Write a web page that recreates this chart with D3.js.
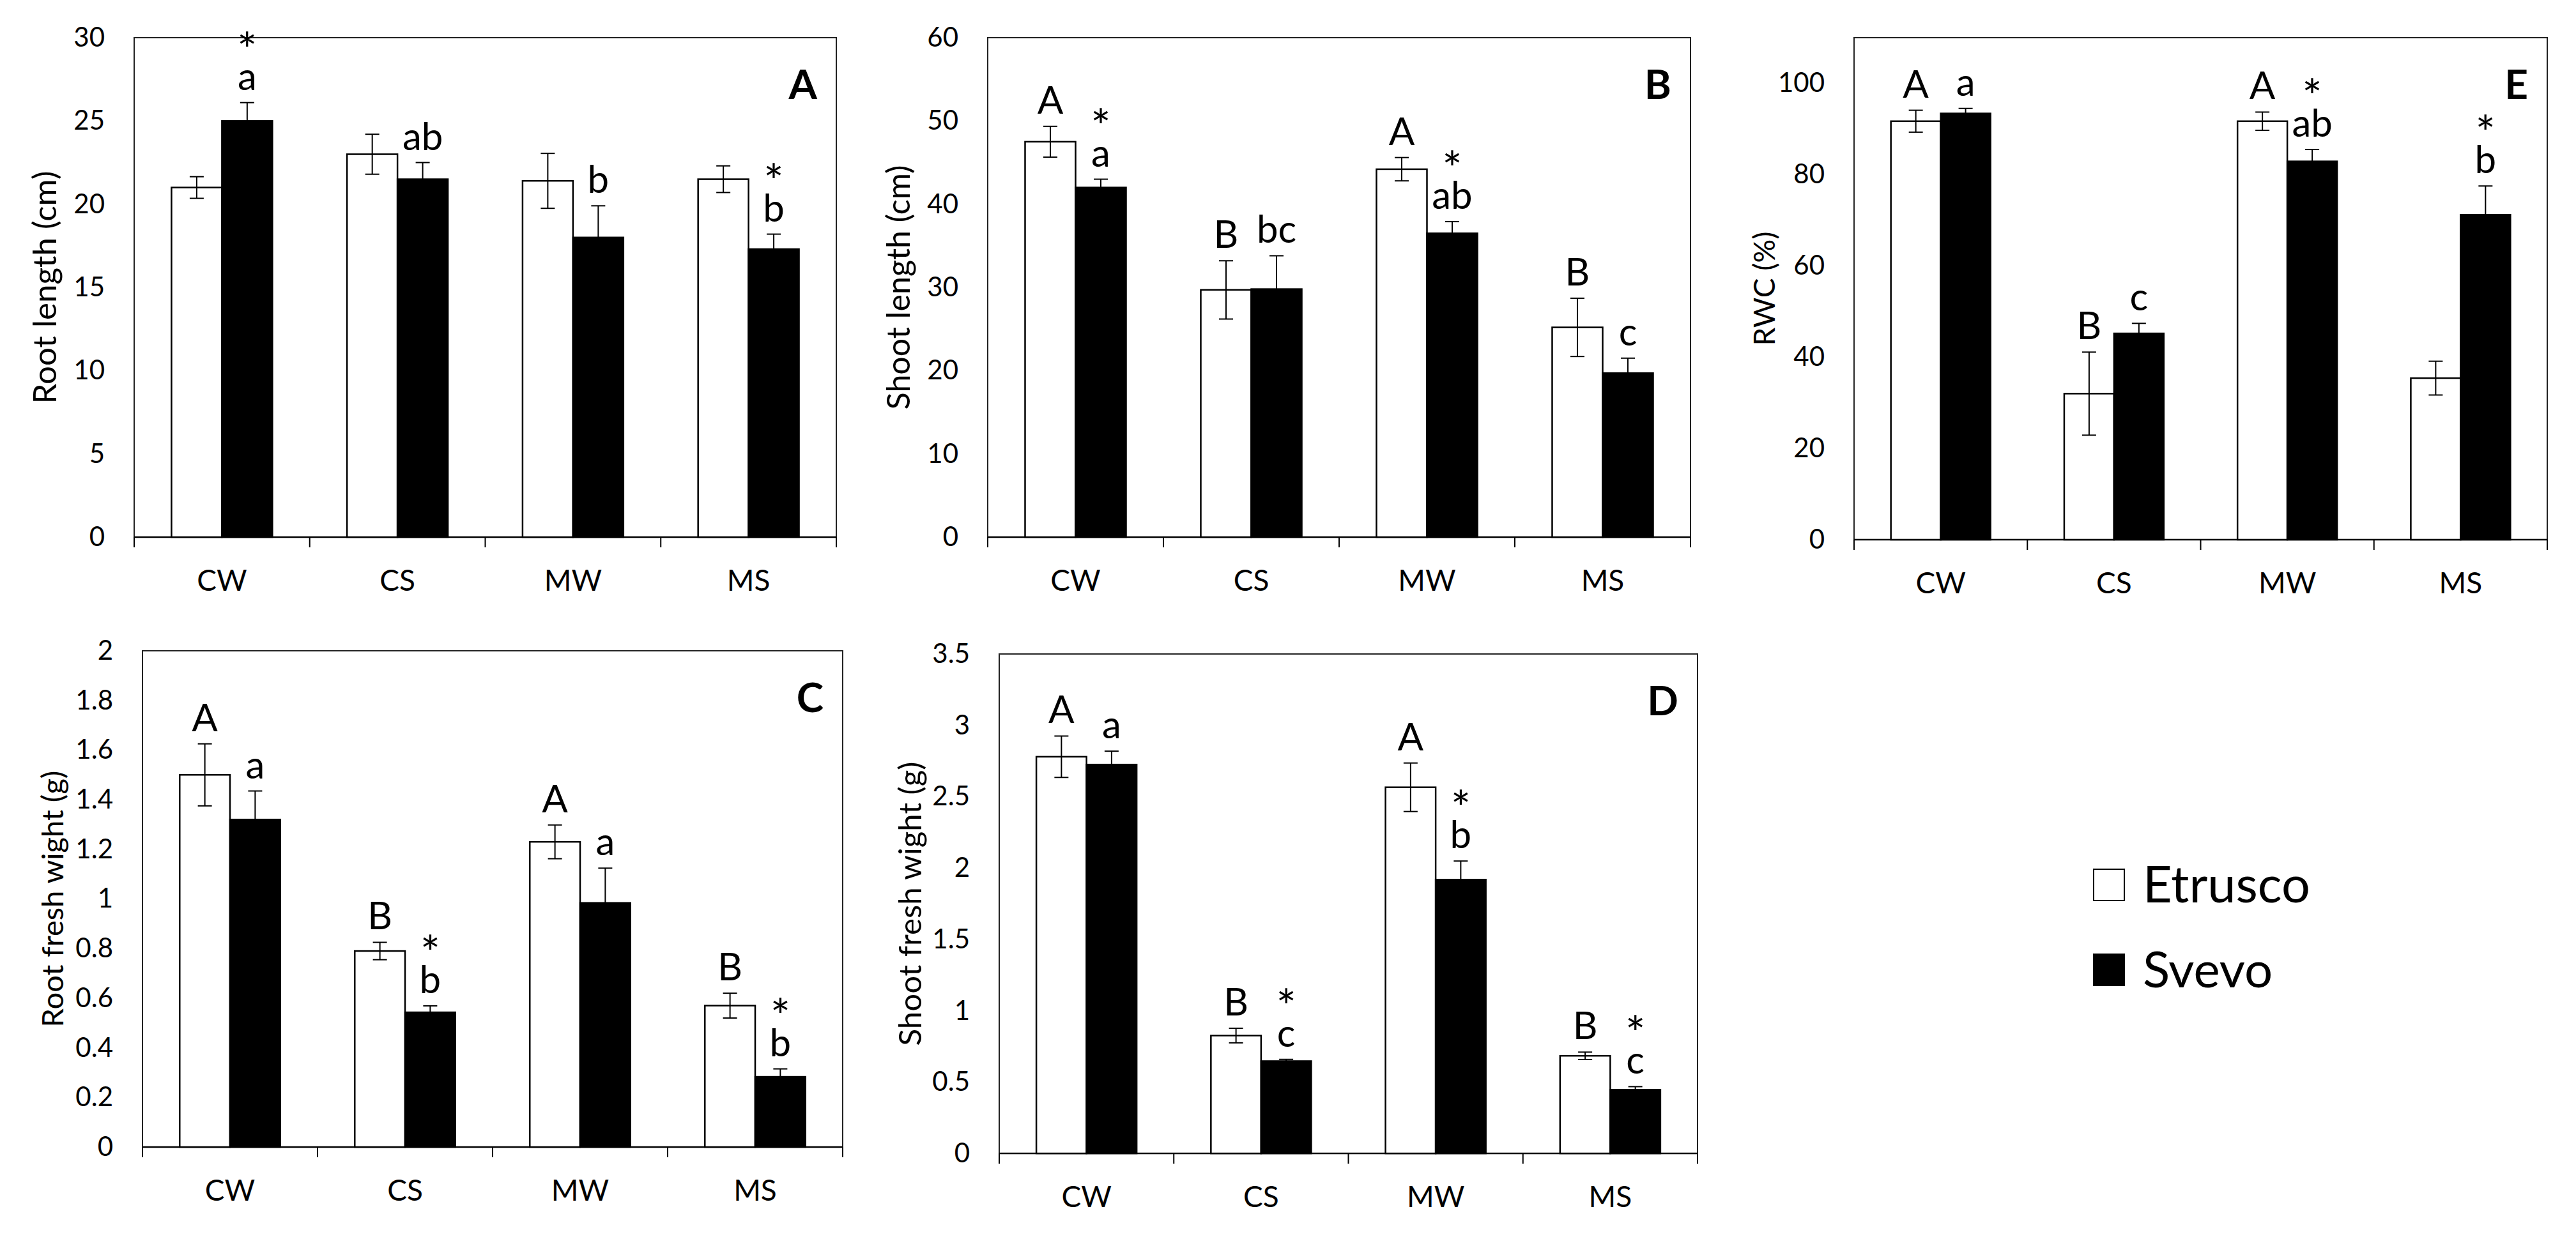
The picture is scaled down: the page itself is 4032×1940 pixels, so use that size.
<!DOCTYPE html>
<html>
<head>
<meta charset="utf-8">
<script src="https://cdnjs.cloudflare.com/ajax/libs/d3/7.8.5/d3.min.js"></script>
<style>
  body { margin: 0; background: #fff; }
  text { font-family: Lato, "Open Sans", sans-serif; fill: #000; }
</style>
</head>
<body>
<script>
// categories and series
var categories = ['CW', 'CS', 'MW', 'MS'];
var seriesNames = ['Etrusco', 'Svevo'];

// A - root length (cm)
var rootLenEtrusco = [21.0, 23.0, 21.4, 21.5];
var rootLenSvevo = [25.0, 21.5, 18.0, 17.3];
var rootLenEtruscoErr = [0.65, 1.2, 1.65, 0.8];
var rootLenSvevoErr = [1.1, 1.0, 1.9, 0.9];
var rootLenEtruscoTags = ['', '', '', ''];
var rootLenSvevoTags = ['a', 'ab', 'b', 'b'];
var rootLenStars = [true, false, false, true];
var rootLenTicks = [0, 5, 10, 15, 20, 25, 30];

// B - shoot length (cm)
var shootLenEtrusco = [47.5, 29.7, 44.2, 25.2];
var shootLenSvevo = [42.0, 29.8, 36.5, 19.7];
var shootLenEtruscoErr = [1.85, 3.5, 1.4, 3.5];
var shootLenSvevoErr = [1.0, 4.0, 1.4, 1.8];
var shootLenEtruscoTags = ['A', 'B', 'A', 'B'];
var shootLenSvevoTags = ['a', 'bc', 'ab', 'c'];
var shootLenStars = [true, false, true, false];
var shootLenTicks = [0, 10, 20, 30, 40, 50, 60];

// E - RWC (%)
var rwcEtrusco = [91.7, 32.0, 91.7, 35.4];
var rwcSvevo = [93.4, 45.2, 82.9, 71.2];
var rwcEtruscoErr = [2.4, 9.1, 2.0, 3.7];
var rwcSvevoErr = [1.1, 2.2, 2.6, 6.3];
var rwcEtruscoTags = ['A', 'B', 'A', ''];
var rwcSvevoTags = ['a', 'c', 'ab', 'b'];
var rwcStars = [false, false, true, true];
var rwcTicks = [0, 20, 40, 60, 80, 100];

// C - root fresh weight (g)
var rootFwEtrusco = [1.50, 0.79, 1.23, 0.57];
var rootFwSvevo = [1.32, 0.543, 0.984, 0.283];
var rootFwEtruscoErr = [0.125, 0.035, 0.068, 0.05];
var rootFwSvevoErr = [0.115, 0.026, 0.14, 0.032];
var rootFwEtruscoTags = ['A', 'B', 'A', 'B'];
var rootFwSvevoTags = ['a', 'b', 'a', 'b'];
var rootFwStars = [false, true, false, true];
var rootFwTicks = [0, 0.2, 0.4, 0.6, 0.8, 1, 1.2, 1.4, 1.6, 1.8, 2];

// D - shoot fresh weight (g)
var shootFwEtrusco = [2.78, 0.826, 2.566, 0.684];
var shootFwSvevo = [2.725, 0.647, 1.919, 0.446];
var shootFwEtruscoErr = [0.145, 0.051, 0.17, 0.026];
var shootFwSvevoErr = [0.094, 0.012, 0.13, 0.022];
var shootFwEtruscoTags = ['A', 'B', 'A', 'B'];
var shootFwSvevoTags = ['a', 'c', 'b', 'c'];
var shootFwStars = [false, true, true, true];
var shootFwTicks = [0, 0.5, 1, 1.5, 2, 2.5, 3, 3.5];

var panels = [
  {letter: 'A', title: 'Root length (cm)', titleLen: 365, max: 30, ticks: rootLenTicks,
   etr: rootLenEtrusco, sv: rootLenSvevo, etrErr: rootLenEtruscoErr, svErr: rootLenSvevoErr,
   etrTags: rootLenEtruscoTags, svTags: rootLenSvevoTags, stars: rootLenStars,
   box: {x0: 210, x1: 1309, y0: 59, y1: 841}},
  {letter: 'B', title: 'Shoot length (cm)', titleLen: 383, max: 60, ticks: shootLenTicks,
   etr: shootLenEtrusco, sv: shootLenSvevo, etrErr: shootLenEtruscoErr, svErr: shootLenSvevoErr,
   etrTags: shootLenEtruscoTags, svTags: shootLenSvevoTags, stars: shootLenStars,
   box: {x0: 1546, x1: 2646, y0: 59, y1: 841}},
  {letter: 'E', title: 'RWC (%)', titleLen: 179, max: 110, ticks: rwcTicks,
   etr: rwcEtrusco, sv: rwcSvevo, etrErr: rwcEtruscoErr, svErr: rwcSvevoErr,
   etrTags: rwcEtruscoTags, svTags: rwcSvevoTags, stars: rwcStars,
   box: {x0: 2902, x1: 3987, y0: 59, y1: 845}},
  {letter: 'C', title: 'Root fresh wight (g)', titleLen: 402, max: 2, ticks: rootFwTicks,
   etr: rootFwEtrusco, sv: rootFwSvevo, etrErr: rootFwEtruscoErr, svErr: rootFwSvevoErr,
   etrTags: rootFwEtruscoTags, svTags: rootFwSvevoTags, stars: rootFwStars,
   box: {x0: 223, x1: 1319, y0: 1019, y1: 1796}},
  {letter: 'D', title: 'Shoot fresh wight (g)', titleLen: 445, max: 3.5, ticks: shootFwTicks,
   etr: shootFwEtrusco, sv: shootFwSvevo, etrErr: shootFwEtruscoErr, svErr: shootFwSvevoErr,
   etrTags: shootFwEtruscoTags, svTags: shootFwSvevoTags, stars: shootFwStars,
   box: {x0: 1564, x1: 2657, y0: 1024, y1: 1806}}
];

var width = 4032, height = 1940;
var svg = d3.select(document.body).append('svg')
  .attr('width', width).attr('height', height);

var fill = {Etrusco: '#fff', Svevo: '#000'};

// scale a text's font so its length matches the reference
function fitText(t, target) {
  var fs = parseFloat(t.style('font-size'));
  var len = t.node().getComputedTextLength();
  if (len > 0) t.style('font-size', (fs * target / len) + 'px');
}

panels.forEach(function (p) {
  var b = p.box;
  var g = svg.append('g').attr('class', 'panel panel-' + p.letter);

  var x = d3.scaleBand().domain(categories).range([b.x0, b.x1]).padding(0);
  var xs = d3.scaleBand().domain(seriesNames).range([0, x.bandwidth()])
    .paddingInner(0).paddingOuter(0.74);
  var y = d3.scaleLinear().domain([0, p.max]).range([b.y1, b.y0]);

  // frame
  g.append('rect')
    .attr('x', b.x0).attr('y', b.y0)
    .attr('width', b.x1 - b.x0).attr('height', b.y1 - b.y0)
    .attr('fill', 'none').attr('stroke', '#222').attr('stroke-width', 2);

  // y axis labels (no tick marks)
  var yAxis = g.append('g')
    .attr('transform', 'translate(' + b.x0 + ',0)')
    .call(d3.axisLeft(y).tickValues(p.ticks).tickSize(0).tickPadding(46)
      .tickFormat(function (d) { return String(+d.toFixed(2)); }));
  yAxis.select('.domain').remove();
  yAxis.selectAll('text').style('font-family', 'Lato, sans-serif')
    .style('font-size', '42px').attr('fill', '#111');

  // x axis baseline and category separators
  g.append('line')
    .attr('x1', b.x0).attr('x2', b.x1).attr('y1', b.y1).attr('y2', b.y1)
    .attr('stroke', '#000').attr('stroke-width', 2.5);
  var edges = categories.map(function (c) { return x(c); }).concat([b.x1]);
  g.selectAll('.xtick').data(edges).enter().append('line')
    .attr('class', 'xtick')
    .attr('x1', function (d) { return d; }).attr('x2', function (d) { return d; })
    .attr('y1', b.y1).attr('y2', b.y1 + 16)
    .attr('stroke', '#000').attr('stroke-width', 2);
  g.selectAll('.xlab').data(categories).enter().append('text')
    .attr('class', 'xlab')
    .attr('x', function (d) { return x(d) + x.bandwidth() / 2; })
    .attr('y', b.y1 + 84)
    .attr('text-anchor', 'middle')
    .style('font-size', '46px')
    .text(function (d) { return d; });

  // y title
  var title = g.append('text')
    .attr('transform', 'translate(' + (b.x0 - 142) + ',' + ((b.y0 + b.y1) / 2) + ') rotate(-90)')
    .attr('text-anchor', 'middle')
    .attr('dominant-baseline', 'central')
    .style('font-size', '46px')
    .text(p.title);
  fitText(title, p.titleLen);

  // panel letter
  g.append('text')
    .attr('x', b.x1 - 30).attr('y', b.y0 + 96)
    .attr('text-anchor', 'end')
    .style('font-size', '64px').style('font-weight', 'bold')
    .text(p.letter);

  // flatten to rows
  var rows = [];
  categories.forEach(function (c, i) {
    rows.push({cat: c, s: 'Etrusco', v: p.etr[i], e: p.etrErr[i], tag: p.etrTags[i], star: false});
    rows.push({cat: c, s: 'Svevo', v: p.sv[i], e: p.svErr[i], tag: p.svTags[i], star: p.stars[i]});
  });
  var cx = function (d) { return x(d.cat) + xs(d.s) + xs.bandwidth() / 2; };

  g.selectAll('.bar').data(rows).enter().append('rect')
    .attr('class', 'bar')
    .attr('x', function (d) { return x(d.cat) + xs(d.s); })
    .attr('y', function (d) { return y(d.v); })
    .attr('width', xs.bandwidth())
    .attr('height', function (d) { return b.y1 - y(d.v); })
    .attr('fill', function (d) { return fill[d.s]; })
    .attr('stroke', '#000').attr('stroke-width', 2.5);

  // error bars
  var cap = 11;
  var eb = g.selectAll('.err').data(rows).enter().append('g').attr('class', 'err')
    .attr('stroke', '#000').attr('stroke-width', 2);
  eb.append('line')
    .attr('x1', cx).attr('x2', cx)
    .attr('y1', function (d) { return y(d.v - d.e); })
    .attr('y2', function (d) { return y(d.v + d.e); });
  eb.append('line')
    .attr('x1', function (d) { return cx(d) - cap; }).attr('x2', function (d) { return cx(d) + cap; })
    .attr('y1', function (d) { return y(d.v + d.e); }).attr('y2', function (d) { return y(d.v + d.e); });
  eb.append('line')
    .attr('x1', function (d) { return cx(d) - cap; }).attr('x2', function (d) { return cx(d) + cap; })
    .attr('y1', function (d) { return y(d.v - d.e); }).attr('y2', function (d) { return y(d.v - d.e); });

  // significance letters, with the star stacked above in the same text
  var tagged = rows.filter(function (d) { return d.tag; });
  var tags = g.selectAll('.tag').data(tagged).enter().append('text')
    .attr('class', 'tag')
    .attr('text-anchor', 'middle');
  tags.filter(function (d) { return d.star; }).append('tspan')
    .attr('x', cx)
    .attr('y', function (d) { return y(d.v + d.e) - 20 - 36; })
    .style('font-size', '74px')
    .text('*');
  tags.append('tspan')
    .attr('x', cx)
    .attr('y', function (d) { return y(d.v + d.e) - 20; })
    .style('font-size', '60px')
    .text(function (d) { return d.tag; });
});

// legend
var legend = svg.append('g').attr('transform', 'translate(3277,1361)');
seriesNames.forEach(function (s, i) {
  legend.append('rect')
    .attr('x', 0).attr('y', i * 133)
    .attr('width', 48).attr('height', 49)
    .attr('fill', fill[s]).attr('stroke', '#000').attr('stroke-width', 2);
  var t = legend.append('text')
    .attr('x', 77).attr('y', i * 133 + 52)
    .style('font-size', '78px')
    .text(s);
  if (i === 0) fitText(t, 262);
});
</script>
</body>
</html>
